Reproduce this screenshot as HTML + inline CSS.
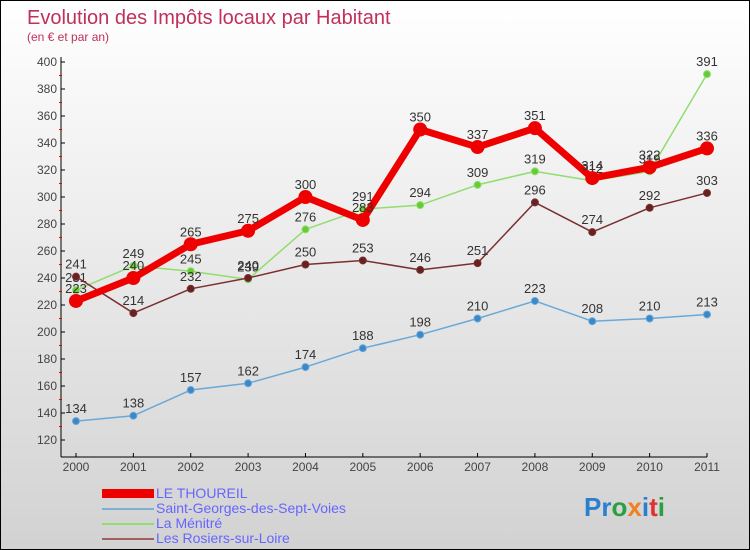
<!DOCTYPE html>
<html><head><meta charset="utf-8"><style>
body{margin:0}
#c{width:750px;height:550px;position:relative;box-sizing:border-box;border:1px solid #000;background:linear-gradient(#fff,#d2d2d2);font-family:"Liberation Sans Narrow","Liberation Sans",sans-serif;overflow:hidden}
svg text{font-family:"Liberation Sans Narrow","Liberation Sans",sans-serif}
</style></head><body>
<div id="c">
<svg id="s" width="750" height="550">
<text x="26" y="23" font-size="20" fill="#c0305a">Evolution des Impôts locaux par Habitant</text>
<text x="26" y="40" font-size="12" fill="#c0305a">(en € et par an)</text>
<g id="g"></g>
<g>
<rect x="101" y="488" width="52" height="9" fill="#e00"/>
<text x="155" y="497" font-size="14" fill="#6666ff">LE THOUREIL</text>
<rect x="101" y="507" width="52" height="2" fill="#7ab0d0"/>
<text x="155" y="512" font-size="14" fill="#6666ff">Saint-Georges-des-Sept-Voies</text>
<rect x="101" y="522" width="52" height="2" fill="#90dd70"/>
<text x="155" y="527" font-size="14" fill="#6666ff">La Ménitré</text>
<rect x="101" y="537" width="52" height="2" fill="#a06060"/>
<text x="155" y="542" font-size="14" fill="#6666ff">Les Rosiers-sur-Loire</text>
</g>
<text x="583" y="515" font-size="26" font-weight="bold"><tspan fill="#2a7fd0">Pr</tspan><tspan fill="#2aa040">o</tspan><tspan fill="#f08020">x</tspan><tspan fill="#2a7fd0">i</tspan><tspan fill="#e03030">t</tspan><tspan fill="#2aa040">i</tspan></text>
</svg></div>
<script>
const years=["2000","2001","2002","2003","2004","2005","2006","2007","2008","2009","2010","2011"];
const thoureil=[223,240,265,275,300,283,350,337,351,314,322,336];
const stGeorges=[134,138,157,162,174,188,198,210,223,208,210,213];
const menitre=[231,249,245,239,276,291,294,309,319,312,319,391];
const rosiers=[241,214,232,240,250,253,246,251,296,274,292,303];
const yTicks=[120,140,160,180,200,220,240,260,280,300,320,340,360,380,400];
const NS="http://www.w3.org/2000/svg";
const g=document.getElementById('g');
const X=i=>75+i*(706-75)/11;
const Y=v=>61+(400-v)*1.35;
function mk(t,a){const e=document.createElementNS(NS,t);for(const k in a)e.setAttribute(k,a[k]);g.appendChild(e);return e;}
let e=mk('line',{x1:60,y1:56,x2:60,y2:456,stroke:'#000'});


e=mk('line',{x1:60,y1:456,x2:706,y2:456,stroke:'#000'});


yTicks.forEach(v=>{
  const y=Y(v);
  mk('line',{x1:60,y1:y,x2:64,y2:y,stroke:'#000'});
  if(v<400) mk('line',{x1:58,y1:Y(v+10),x2:61,y2:Y(v+10),stroke:'#e00'});
  const t=mk('text',{x:56,y:y+4,'font-size':12,fill:'#444','text-anchor':'end'});
  t.textContent=v;
  
  
});
years.forEach((yr,i)=>{
  const x=X(i);
  mk('line',{x1:x,y1:452,x2:x,y2:456,stroke:'#000'});
  const t=mk('text',{x:x,y:470,'font-size':12,fill:'#444','text-anchor':'middle'});
  t.textContent=yr;
  
  
});
function series(vals,name,color,w,r,dot){
  const pts=vals.map((v,i)=>X(i)+','+Y(v)).join(' ');
  const p=mk('polyline',{points:pts,fill:'none',stroke:color,'stroke-width':w,'stroke-linejoin':'round'});
  
  
  vals.forEach((v,i)=>{
    const c=mk('circle',{cx:X(i),cy:Y(v),r:r,fill:dot,stroke:color,'stroke-width':1});
    
    
    const t=mk('text',{x:X(i),y:Y(v)-8,'font-size':13,fill:'#333','text-anchor':'middle'});
    t.textContent=v;
    
    
  });
}
series(stGeorges,'saint-georges','#6aa8d8',1.5,3.5,'#3a88c8');
series(menitre,'la-menitre','#90dd70',1.5,3.5,'#66cc33');
series(rosiers,'rosiers','#7a3030',1.5,3.5,'#662222');
series(thoureil,'le-thoureil','#ee0000',7,6.5,'#ee0000');
</script>
</body></html>
